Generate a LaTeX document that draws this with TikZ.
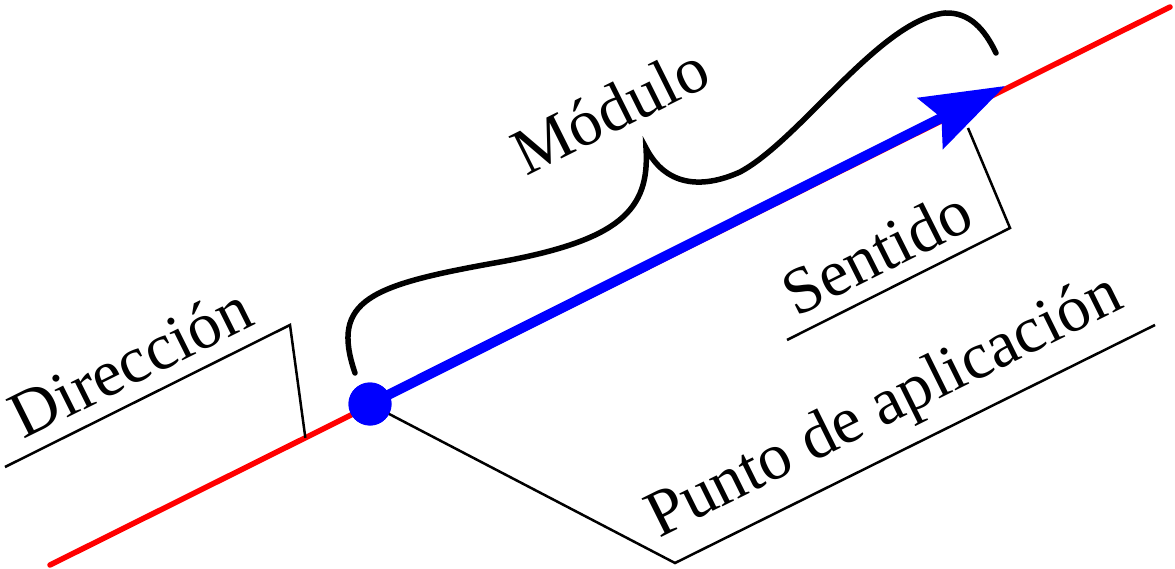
\documentclass[tikz,border=0pt]{standalone}
\usepackage{fontspec}
\setmainfont{Liberation Serif}
\usepackage{tikz}
\usetikzlibrary{arrows.meta, positioning, calc}

\begin{document}
\begin{tikzpicture}[
    x=1pt, y=-1pt,
    recta/.style={draw=red, line width=5.5pt},
    vector/.style={draw=blue, line width=10pt, -{Stealth[length=83pt, width=56pt, inset=12pt]}},
    punto/.style={circle, fill=blue, inner sep=0pt, minimum size=43pt},
    guia/.style={draw=black, line width=2.5pt, line join=miter},
    llave/.style={draw=black, line width=5.5pt, line cap=round},
    etiqueta/.style={font=\fontsize{66}{74}\selectfont, sloped, above, inner sep=14pt}
]
\useasboundingbox (0,0) rectangle (1175,569);

% linea de accion
\coordinate (r1) at (50,565);
\coordinate (r2) at (1170,7);
\draw[recta, line cap=round] (r1) -- (r2);

\node[punto] (pa) at (370,404) {};
\coordinate (tip) at (1005,86);

% guias de las etiquetas
\coordinate (dir1) at (5,467);
\coordinate (dir2) at (290,325);
\draw[guia] (dir1) -- node[etiqueta, pos=0.5] (dir) {Dirección} (dir2)
    -- ($(r1)!0.228!(r2)$);

\coordinate (sen1) at (787,340);
\coordinate (sen2) at (1010,228);
\draw[guia] (sen1) -- node[etiqueta, pos=0.48] (sen) {Sentido} (sen2) -- (968,128);

\coordinate (pun1) at (675,563);
\coordinate (pun2) at (1155,325);
\draw[guia] (pa.center) -- (pun1) -- node[etiqueta, pos=0.48] (pun) {Punto de aplicación} (pun2);

% vector
\draw[vector] (pa.center) -- (tip);
\node[punto] at (pa) {};

% llave del modulo
\draw[llave] (355,373) .. controls (330,300) and (370,285) .. (500,262)
    .. controls (620,240) and (650,210) .. (646,148)
    .. controls (665,185) and (700,190) .. (740,172)
    .. controls (800,140) and (880,20) .. (945,13)
    .. controls (970,12) and (985,30) .. (996,53);
\node[font=\fontsize{66}{74}\selectfont, rotate=26.5, anchor=base] (mod) at (620,130) {Módulo};

\end{tikzpicture}
\end{document}
